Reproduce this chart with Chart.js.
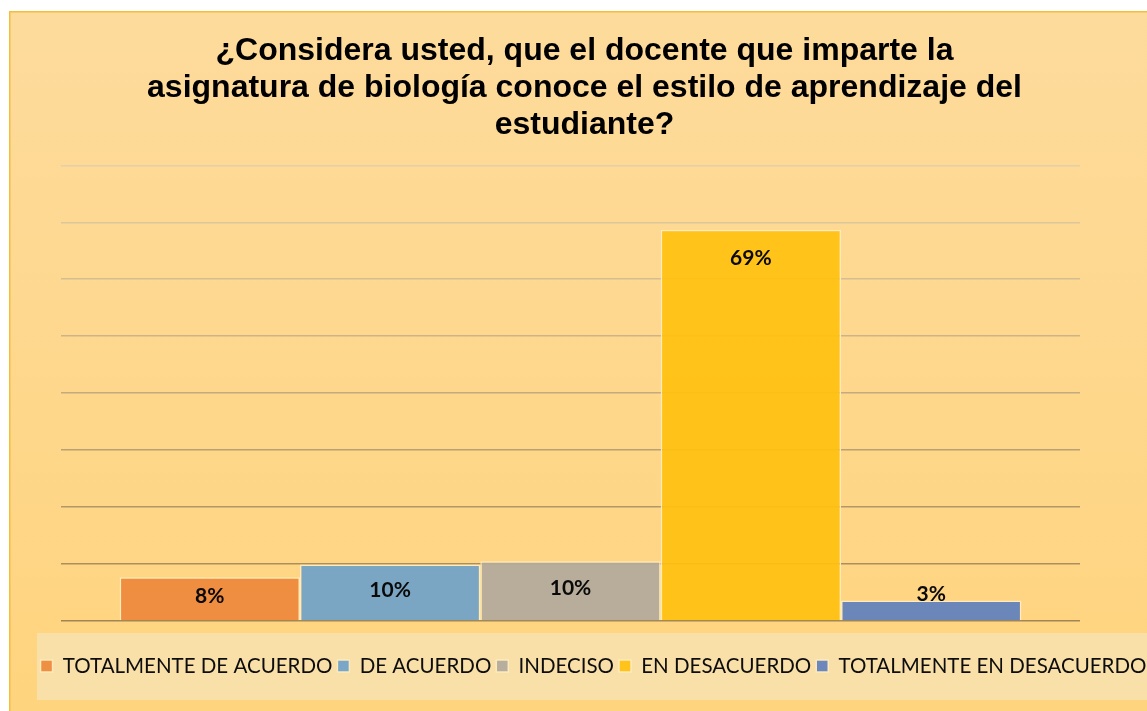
<!DOCTYPE html>
<html>
<head>
<meta charset="utf-8">
<script src="https://cdn.jsdelivr.net/npm/chart.js@4.4.1/dist/chart.umd.min.js"></script>
<style>
  html, body { margin: 0; padding: 0; background: #ffffff; overflow: hidden; }
  #c { display: block; }
</style>
</head>
<body>
<canvas id="c" width="1147" height="711"></canvas>
<script>
// ---- data ----
const categories = [''];
const seriesNames = ['TOTALMENTE DE ACUERDO', 'DE ACUERDO', 'INDECISO', 'EN DESACUERDO', 'TOTALMENTE EN DESACUERDO'];
const seriesValues = [7.7, 9.9, 10.5, 68.7, 3.6];
const valueLabels = ['8%', '10%', '10%', '69%', '3%'];
const seriesColors = ['rgba(238,137,60,0.93)', 'rgba(112,162,201,0.93)', 'rgba(178,170,156,0.93)', 'rgba(255,193,16,0.93)', 'rgba(96,128,188,0.93)'];
const titleLines = ['¿Considera usted, que el docente que imparte la', 'asignatura de biología conoce el estilo de aprendizaje del', 'estudiante?'];
const yMin = 0, yMax = 80, yStep = 10;

const datasets = seriesNames.map((name, i) => ({
  label: name,
  data: [seriesValues[i]],
  backgroundColor: seriesColors[i],
  borderColor: 'rgba(255,236,190,0.95)',
  borderWidth: 1.5,
  categoryPercentage: 0.885,
  barPercentage: 1.0
}));

function mix(a, b, t) {
  return 'rgb(' + a.map((v, k) => Math.round(v + (b[k] - v) * t)).join(',') + ')';
}

const framePlugin = {
  id: 'frame',
  afterLayout(chart) {
    if (chart.titleBlock) { chart.titleBlock.left += 11; chart.titleBlock.right += 11; }
    if (chart.legend) { chart.legend.left += 20; chart.legend.right += 20; }
  },
  beforeDraw(chart) {
    const ctx = chart.ctx, W = chart.width, H = chart.height;
    ctx.save();
    ctx.fillStyle = '#ffffff';
    ctx.fillRect(0, 0, W, H);
    const g = ctx.createLinearGradient(0, 11, 0, H);
    g.addColorStop(0, '#FDDB9C');
    g.addColorStop(1, '#FFD47E');
    ctx.fillStyle = g;
    ctx.fillRect(9, 11, W - 9, H - 11);
    ctx.strokeStyle = '#F5BE3A';
    ctx.lineWidth = 1.5;
    ctx.beginPath();
    ctx.moveTo(9.75, H); ctx.lineTo(9.75, 11.75); ctx.lineTo(W, 11.75);
    ctx.stroke();
    // legend backdrop
    ctx.fillStyle = '#F9DFA8';
    ctx.fillRect(37, 633, W - 37, 67);
    ctx.restore();
  }
};

const labelPlugin = {
  id: 'barLabels',
  afterDatasetsDraw(chart) {
    const ctx = chart.ctx;
    ctx.save();
    ctx.font = 'bold 21px Lato, "DejaVu Sans", sans-serif';
    ctx.fillStyle = '#0a0a0a';
    ctx.textAlign = 'center';
    ctx.textBaseline = 'middle';
    chart.data.datasets.forEach((ds, i) => {
      const el = chart.getDatasetMeta(i).data[0];
      if (!el) return;
      const h = el.base - el.y;
      const cy = h > 30 ? el.y + Math.min(28, h / 2 - 2) : el.y - 6;
      ctx.fillText(valueLabels[i], el.x, cy);
    });
    ctx.restore();
  }
};

new Chart(document.getElementById('c'), {
  type: 'bar',
  data: { labels: categories, datasets: datasets },
  options: {
    responsive: false,
    devicePixelRatio: 1,
    animation: false,
    layout: { padding: { top: 0, left: 0, right: 0, bottom: 24.75 } },
    plugins: {
      title: {
        display: true,
        text: titleLines,
        color: '#000000',
        font: { family: '"Liberation Sans", Arial, sans-serif', size: 32, weight: 'bold', lineHeight: 1.15 },
        padding: { top: 33, bottom: 22 }
      },
      legend: {
        display: true,
        position: 'bottom',
        labels: {
          color: '#0d0d0d',
          font: { family: 'Lato, "DejaVu Sans", sans-serif', size: 20.5 },
          boxWidth: 12,
          boxHeight: 12,
          padding: 5
        }
      },
      tooltip: { enabled: false }
    },
    scales: {
      x: {
        display: true,
        grid: { display: false },
        ticks: { display: false },
        border: { display: false },
        afterFit(s) { s.height = 29.75; }
      },
      y: {
        display: true,
        min: yMin,
        max: yMax,
        ticks: { display: false, stepSize: yStep },
        border: { display: false },
        grid: {
          drawTicks: false,
          lineWidth: 1.6,
          color: (c) => mix([160, 134, 84], [228, 207, 166], (c.tick ? c.tick.value : 0) / yMax)
        },
        afterFit(s) { s.width = 61; }
      },
      y2: {
        display: true,
        position: 'right',
        grid: { display: false },
        ticks: { display: false },
        border: { display: false },
        afterFit(s) { s.width = 67; }
      }
    }
  },
  plugins: [framePlugin, labelPlugin]
});
</script>
</body>
</html>
